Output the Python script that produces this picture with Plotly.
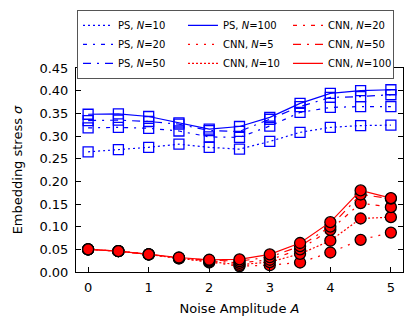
import plotly.graph_objects as go

amplitude = [0, 0.5, 1, 1.5, 2, 2.5, 3, 3.5, 4, 4.5, 5]

ps_n10 = [0.265, 0.270, 0.275, 0.282, 0.275, 0.271, 0.288, 0.308, 0.319, 0.323, 0.324]
ps_n20 = [0.318, 0.319, 0.317, 0.311, 0.298, 0.297, 0.322, 0.352, 0.363, 0.365, 0.365]
ps_n50 = [0.334, 0.335, 0.332, 0.326, 0.312, 0.310, 0.337, 0.365, 0.385, 0.387, 0.391]
ps_n100 = [0.348, 0.349, 0.343, 0.329, 0.315, 0.321, 0.341, 0.372, 0.394, 0.400, 0.402]

cnn_n5 = [0.050, 0.046, 0.039, 0.030, 0.021, 0.013, 0.015, 0.021, 0.043, 0.071, 0.087]
cnn_n10 = [0.050, 0.046, 0.039, 0.030, 0.023, 0.016, 0.022, 0.040, 0.069, 0.118, 0.121]
cnn_n20 = [0.050, 0.046, 0.039, 0.031, 0.025, 0.020, 0.027, 0.050, 0.093, 0.152, 0.143]
cnn_n50 = [0.050, 0.046, 0.039, 0.031, 0.026, 0.024, 0.033, 0.057, 0.100, 0.171, 0.162]
cnn_n100 = [0.050, 0.046, 0.039, 0.032, 0.027, 0.028, 0.039, 0.064, 0.110, 0.180, 0.163]

BLUE = "#0000ff"
RED = "#ff0000"

# (name, values, colour, dash, marker, legend rank) - ranks give column-major legend
series = [
    ("PS, <i>N</i>=10", ps_n10, BLUE, "2px,3px", "square", 1),
    ("PS, <i>N</i>=20", ps_n20, BLUE, "4px,6px,2px,6px", "square", 4),
    ("PS, <i>N</i>=50", ps_n50, BLUE, "8px,6px,2px,6px", "square", 7),
    ("PS, <i>N</i>=100", ps_n100, BLUE, "solid", "square", 2),
    ("CNN, <i>N</i>=5", cnn_n5, RED, "2px,6px", "circle", 5),
    ("CNN, <i>N</i>=10", cnn_n10, RED, "2px,2px", "circle", 8),
    ("CNN, <i>N</i>=20", cnn_n20, RED, "4px,6px,2px,6px", "circle", 3),
    ("CNN, <i>N</i>=50", cnn_n50, RED, "8px,6px,2px,6px", "circle", 6),
    ("CNN, <i>N</i>=100", cnn_n100, RED, "solid", "circle", 9),
]

fig = go.Figure()
for name, vals, color, dash, sym, rank in series:
    # line trace carries the legend entry (legend shows line only, like matplotlib)
    fig.add_trace(go.Scatter(
        x=amplitude, y=vals, name=name, mode="lines",
        line=dict(color=color, width=1.2, dash=dash), legendrank=rank,
    ))
    if sym == "square":
        marker = dict(symbol="square-open", size=10, color=color, line=dict(width=1.3, color=color))
    else:
        marker = dict(symbol="circle", size=11, color=RED, line=dict(width=1.3, color="black"))
    fig.add_trace(go.Scatter(
        x=amplitude, y=vals, mode="markers", marker=marker,
        showlegend=False, hoverinfo="skip",
    ))

axis_common = dict(
    showline=True, linecolor="black", linewidth=1, mirror="ticks",
    ticks="inside", ticklen=5, tickcolor="black", showgrid=False, zeroline=False,
    tickfont=dict(size=13, color="black"), automargin=False,
)

# page body adds an 8px offset, so the figure is 8px smaller than the window
fig.update_layout(
    width=407, height=324,
    paper_bgcolor="white", plot_bgcolor="white",
    font=dict(family="DejaVu Sans", color="black"),
    margin=dict(l=68, r=12, t=60, b=60, autoexpand=False),
    xaxis=dict(range=[-0.2, 5.2], tickvals=[0, 1, 2, 3, 4, 5], ticklabelstandoff=3,
               title=dict(text="Noise Amplitude <i>A</i>", font=dict(size=13), standoff=10),
               **axis_common),
    yaxis=dict(range=[0, 0.45], dtick=0.05, tickformat=".2f", ticklabelstandoff=4,
               title=dict(text="Embedding stress <i>σ</i>", font=dict(size=13), standoff=13),
               **axis_common),
    legend=dict(
        orientation="h", x=0.003, y=1.285, xanchor="left", yanchor="top",
        entrywidth=60, entrywidthmode="pixels", itemwidth=30,
        bordercolor="#555555", borderwidth=1, bgcolor="white",
        font=dict(size=10), tracegroupgap=0,
    ),
    showlegend=True,
)

fig.write_html("out.html")
